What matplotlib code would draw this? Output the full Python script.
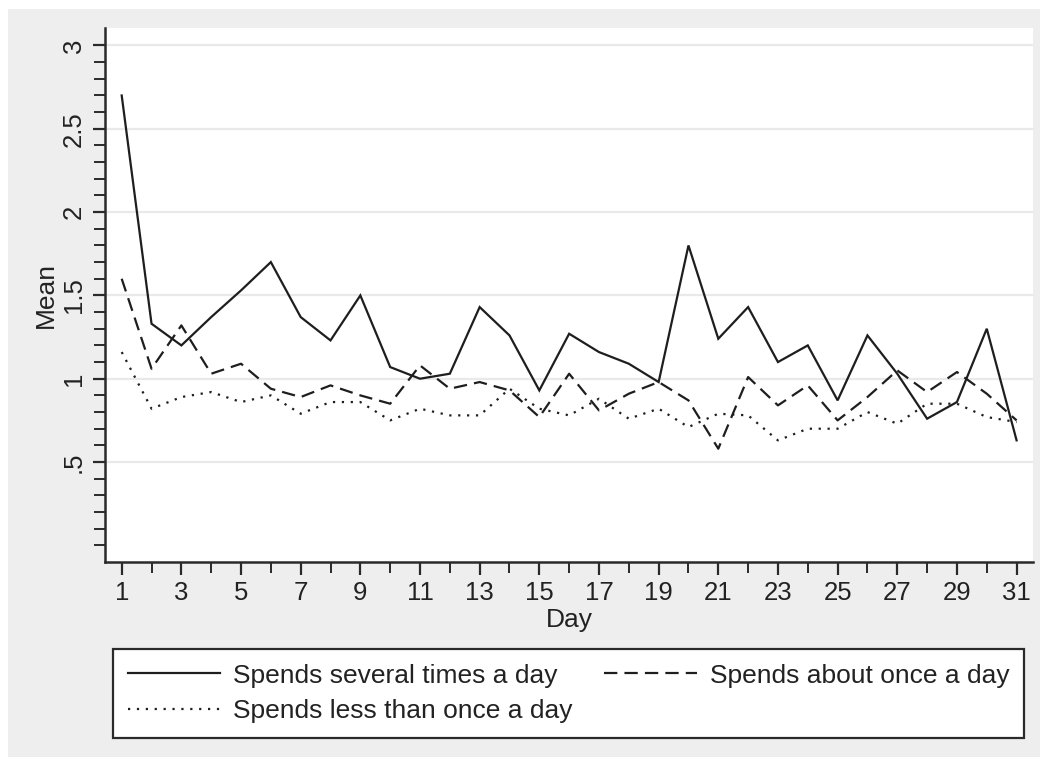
import matplotlib
matplotlib.use("Agg")
import matplotlib.pyplot as plt
from matplotlib.patches import Rectangle
import numpy as np

plt.rcParams['font.family'] = ['Liberation Sans', 'DejaVu Sans']

days = list(range(1, 32))

several_times = [2.70, 1.33, 1.20, 1.37, 1.53, 1.70, 1.37, 1.23, 1.50, 1.07,
                 1.00, 1.03, 1.43, 1.26, 0.93, 1.27, 1.16, 1.09, 0.98, 1.80,
                 1.24, 1.43, 1.10, 1.20, 0.87, 1.26, 1.03, 0.76, 0.86, 1.30,
                 0.63]
about_once = [1.60, 1.06, 1.32, 1.03, 1.09, 0.94, 0.89, 0.96, 0.90, 0.85,
              1.08, 0.94, 0.98, 0.93, 0.77, 1.03, 0.81, 0.91, 0.98, 0.87,
              0.58, 1.01, 0.84, 0.96, 0.75, 0.89, 1.05, 0.92, 1.04, 0.91,
              0.75]
less_than_once = [1.16, 0.82, 0.89, 0.92, 0.86, 0.90, 0.79, 0.86, 0.86, 0.75,
                  0.82, 0.78, 0.78, 0.94, 0.82, 0.78, 0.88, 0.76, 0.82, 0.71,
                  0.79, 0.78, 0.63, 0.70, 0.70, 0.80, 0.73, 0.85, 0.85, 0.77,
                  0.74]

series_labels = ["Spends several times a day", "Spends about once a day",
                 "Spends less than once a day"]

y_major = [0.5, 1, 1.5, 2, 2.5, 3]
y_major_labels = [".5", "1", "1.5", "2", "2.5", "3"]
x_major = list(range(1, 32, 2))

W, H = 1046, 764
fig = plt.figure(figsize=(W / 100, H / 100), dpi=100, facecolor="white")

# graph region background
fig.patches.append(Rectangle((8 / W, 1 - 757 / H), (1040 - 8) / W, (757 - 9) / H,
                             transform=fig.transFigure, facecolor="#eeeeee",
                             edgecolor="none", zorder=-10))

left, right, top, bottom = 105, 1033, 28, 562
ax = fig.add_axes([left / W, 1 - bottom / H, (right - left) / W, (bottom - top) / H])
ax.set_zorder(1)
ax.set_facecolor("white")

ink = "#1e1e1e"
lw = 1.6
l1, = ax.plot(days, several_times, color=ink, lw=lw, solid_joinstyle="miter")
l2, = ax.plot(days, about_once, color=ink, lw=lw, linestyle=(0, (6, 3.2)))
l3, = ax.plot(days, less_than_once, color=ink, lw=lw, linestyle=(0, (1, 3)))

ax.set_xlim(0.44, 31.55)
ax.set_ylim(-0.1, 3.105)

for yv in y_major:
    ax.axhline(yv, color="#e9e9e9", lw=1.6, zorder=0)

ax.set_yticks(y_major)
ax.set_yticklabels(y_major_labels, rotation=90, va="center")
ax.set_yticks(np.round(np.arange(0, 3.01, 0.1), 2), minor=True)
ax.set_xticks(x_major)
ax.set_xticks(list(range(2, 31, 2)), minor=True)

for s in ["top", "right"]:
    ax.spines[s].set_visible(False)
for s in ["left", "bottom"]:
    ax.spines[s].set_color("#2a2a2a")
    ax.spines[s].set_linewidth(1.8)

ax.tick_params(axis="both", which="major", length=9, width=1.6, color="#2a2a2a",
               labelsize=18.5, labelcolor="#222222", pad=5)
ax.tick_params(axis="both", which="minor", length=8, width=1.4, color="#2a2a2a")

ax.set_xlabel("Day", fontsize=19, color="#222222", labelpad=2)
ax.set_ylabel("Mean", fontsize=19, color="#222222", labelpad=3)

leg = fig.legend([l1, l3, l2], [series_labels[0], series_labels[2], series_labels[1]],
                 ncol=2, loc="upper left",
                 bbox_to_anchor=(113 / W, 1 - 649 / H), borderaxespad=0,
                 fontsize=19, handlelength=3.5, handletextpad=0.5,
                 columnspacing=1.2, labelspacing=0.45, borderpad=0.55,
                 frameon=True, fancybox=False, framealpha=1)
leg.get_frame().set_edgecolor("#2a2a2a")
leg.get_frame().set_linewidth(1.6)
leg.get_frame().set_facecolor("white")
for t in leg.get_texts():
    t.set_color("#222222")

fig.savefig("out.png", dpi=100, facecolor="white")
